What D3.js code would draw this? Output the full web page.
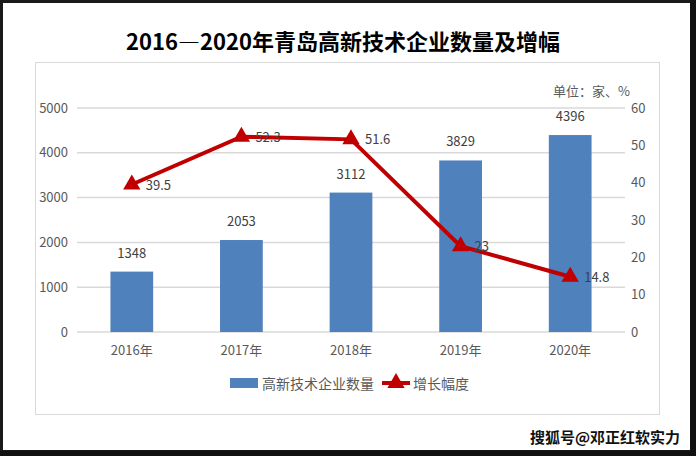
<!DOCTYPE html>
<html lang="zh">
<head>
<meta charset="UTF-8">
<script src="https://d3js.org/d3.v7.min.js"></script>
<style>
body { margin: 0; background: #fff; }
svg { display: block; font-family: "Liberation Sans Narrow", "Noto Sans CJK SC", sans-serif; }
</style>
</head>
<body>
<svg id="chart" width="696" height="456"></svg>
<script>
var years = ["2016年", "2017年", "2018年", "2019年", "2020年"];
var counts = [1348, 2053, 3112, 3829, 4396];
var growth = [39.5, 52.3, 51.6, 23, 14.8];
var leftTicks = [0, 1000, 2000, 3000, 4000, 5000];
var rightTicks = [0, 10, 20, 30, 40, 50, 60];

var svg = d3.select("#chart");
var cjk = "'Noto Sans CJK SC', sans-serif";

// outer frame
svg.append("rect").attr("x", 1.5).attr("y", 1.5).attr("width", 690).attr("height", 450)
  .attr("fill", "#fff").attr("stroke", "#1a1a1a").attr("stroke-width", 3);
svg.append("rect").attr("x", 690).attr("y", 0).attr("width", 6).attr("height", 456).attr("fill", "#111");
svg.append("rect").attr("x", 0).attr("y", 451).attr("width", 696).attr("height", 5).attr("fill", "#111");

svg.append("text").attr("x", 343).attr("y", 50).attr("text-anchor", "middle")
  .style("font-family", cjk).style("font-size", "22px").style("font-weight", "bold")
  .text("2016—2020年青岛高新技术企业数量及增幅");

// chart panel
svg.append("rect").attr("x", 35.5).attr("y", 62.5).attr("width", 624).attr("height", 352)
  .attr("fill", "#fff").attr("stroke", "#d9d9d9");

var x = d3.scaleBand().domain(years).range([77, 625]).paddingInner(0.61).paddingOuter(0.305);
var yL = d3.scaleLinear().domain([0, 5000]).range([332, 108]);
var yR = d3.scaleLinear().domain([0, 60]).range([332, 108]);

svg.append("g").selectAll("line").data(leftTicks).join("line")
  .attr("x1", 77).attr("x2", 625).attr("y1", d => yL(d)).attr("y2", d => yL(d))
  .attr("stroke", "#d9d9d9").attr("stroke-width", 1.5);

var axL = svg.append("g").attr("transform", "translate(77,0)")
  .call(d3.axisLeft(yL).tickValues(leftTicks).tickFormat(d3.format("d")).tickSize(0).tickPadding(9));
var axR = svg.append("g").attr("transform", "translate(625,0)")
  .call(d3.axisRight(yR).tickValues(rightTicks).tickFormat(d3.format("d")).tickSize(0).tickPadding(6));
var axX = svg.append("g").attr("transform", "translate(0,332)")
  .call(d3.axisBottom(x).tickSize(0).tickPadding(14));
[axL, axR, axX].forEach(function(a) {
  a.select(".domain").remove();
  a.selectAll("text").style("font-size", "13px").attr("fill", "#595959")
    .style("font-family", "'Liberation Sans Narrow', 'Noto Sans CJK SC', sans-serif");
});

svg.append("g").selectAll("rect").data(counts).join("rect")
  .attr("x", (d, i) => x(years[i])).attr("width", x.bandwidth())
  .attr("y", d => yL(d)).attr("height", d => 332 - yL(d)).attr("fill", "#4f81bd");

svg.append("g").selectAll("text").data(counts).join("text")
  .attr("x", (d, i) => x(years[i]) + x.bandwidth() / 2).attr("y", d => yL(d) - 14)
  .attr("text-anchor", "middle").style("font-size", "13px").attr("fill", "#404040")
  .text(d => d);

var cx = (d, i) => x(years[i]) + x.bandwidth() / 2;
var line = d3.line().x(cx).y(d => yR(d));
svg.append("path").datum(growth).attr("d", line).attr("fill", "none")
  .attr("stroke", "#c00000").attr("stroke-width", 4);
var tri = d3.symbol().type(d3.symbolTriangle).size(130);
svg.append("g").selectAll("path").data(growth).join("path")
  .attr("d", tri).attr("fill", "#c00000")
  .attr("transform", (d, i) => "translate(" + cx(d, i) + "," + yR(d) + ")");
svg.append("g").selectAll("text").data(growth).join("text")
  .attr("x", (d, i) => cx(d, i) + 14).attr("y", d => yR(d) + 5)
  .style("font-size", "13px").attr("fill", "#404040").text(d => d);

svg.append("text").attr("x", 553).attr("y", 96)
  .style("font-family", cjk).style("font-size", "13px").attr("fill", "#595959")
  .text("单位：家、%");

// legend
svg.append("rect").attr("x", 230).attr("y", 378).attr("width", 28).attr("height", 10).attr("fill", "#4f81bd");
svg.append("text").attr("x", 262).attr("y", 389).style("font-family", cjk)
  .style("font-size", "14px").attr("fill", "#595959").text("高新技术企业数量");
svg.append("line").attr("x1", 382).attr("x2", 410).attr("y1", 383).attr("y2", 383)
  .attr("stroke", "#c00000").attr("stroke-width", 4);
svg.append("path").attr("d", tri).attr("fill", "#c00000").attr("transform", "translate(396,383)");
svg.append("text").attr("x", 413).attr("y", 389).style("font-family", cjk)
  .style("font-size", "14px").attr("fill", "#595959").text("增长幅度");

svg.append("text").attr("x", 680).attr("y", 443).attr("text-anchor", "end")
  .style("font-family", cjk).style("font-size", "15px").style("font-weight", "bold").attr("fill", "#111")
  .text("搜狐号@邓正红软实力");
</script>
</body>
</html>
